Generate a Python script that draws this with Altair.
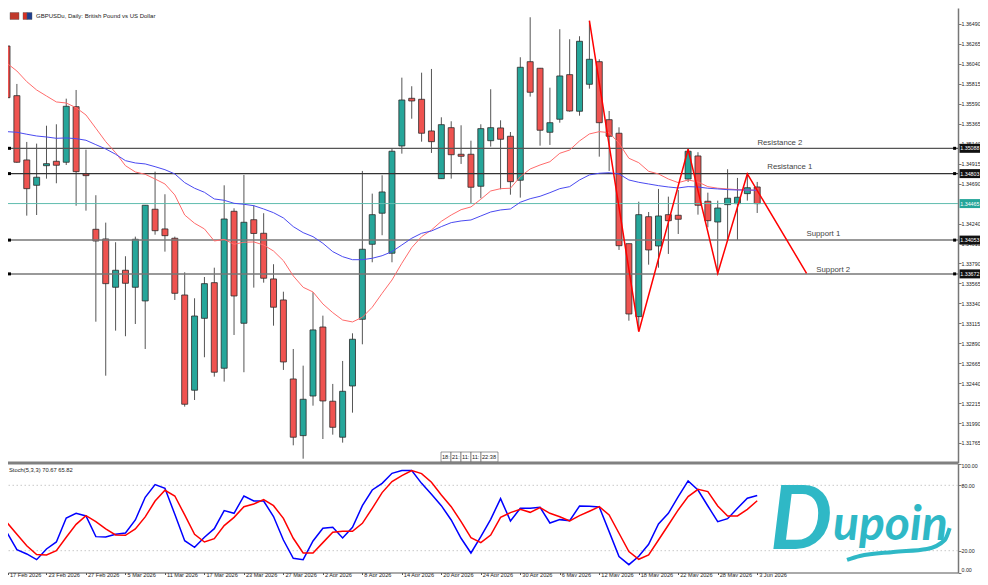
import altair as alt
import pandas as pd

# candles, one entry per daily bar, 17 Feb 2026 to 3 Jun 2026
opens = [1.36242,1.35682,1.34957,1.34671,1.34892,1.34942,1.34931,1.35558,1.34802,1.34175,1.34066,1.33521,1.33713,1.33521,1.33367,1.34401,1.34179,1.34074,1.33434,1.32360,1.33171,1.33573,1.32608,1.34378,1.33115,1.34283,1.34130,1.33615,1.33378,1.32487,1.31848,1.32295,1.33073,1.32236,1.31830,1.32408,1.33160,1.34006,1.34356,1.33905,1.35115,1.35652,1.35641,1.35284,1.34746,1.35321,1.35021,1.35021,1.34660,1.35174,1.35318,1.35224,1.34728,1.36065,1.35991,1.35269,1.35416,1.35919,1.35506,1.35810,1.36065,1.35411,1.35258,1.34013,1.33190,1.34317,1.33987,1.34340,1.34333,1.34742,1.35002,1.34491,1.34257,1.34453,1.34464,1.34577,1.34652]
highs = [1.36242,1.35814,1.35160,1.35141,1.35343,1.35359,1.35648,1.35746,1.35073,1.34559,1.34250,1.34029,1.33871,1.34092,1.34446,1.34825,1.34570,1.34092,1.33690,1.33397,1.33637,1.33742,1.34671,1.34412,1.34788,1.34446,1.34356,1.33781,1.33471,1.32825,1.32637,1.33465,1.33201,1.32431,1.32690,1.33002,1.34833,1.34577,1.34784,1.35081,1.35885,1.35788,1.35941,1.35983,1.35438,1.35393,1.35348,1.35174,1.35359,1.35754,1.35404,1.35272,1.36115,1.36566,1.35994,1.35772,1.36431,1.36318,1.36352,1.36524,1.36092,1.35509,1.35325,1.34013,1.34486,1.34370,1.34630,1.34543,1.34618,1.35077,1.35044,1.34588,1.34498,1.34852,1.34754,1.34799,1.34709]
lows = [1.35659,1.34925,1.34329,1.34336,1.34746,1.34694,1.34900,1.34441,1.34385,1.33133,1.32524,1.33032,1.32969,1.33107,1.32825,1.34114,1.33923,1.33378,1.32175,1.32250,1.32732,1.32513,1.32457,1.32983,1.32563,1.33517,1.33573,1.33088,1.32589,1.31739,1.31588,1.32186,1.31810,1.31859,1.31769,1.32107,1.32878,1.33803,1.34108,1.33803,1.35028,1.35422,1.35163,1.35036,1.34742,1.34746,1.34912,1.34468,1.34525,1.35107,1.34626,1.34565,1.34532,1.35671,1.35118,1.35126,1.35377,1.35501,1.35456,1.35761,1.34994,1.34833,1.33942,1.33144,1.33040,1.33776,1.33742,1.33897,1.34122,1.34709,1.34340,1.34198,1.33679,1.34055,1.34055,1.34498,1.34359]
closes = [1.35659,1.34931,1.34633,1.34762,1.34915,1.34897,1.35562,1.34825,1.34780,1.34043,1.33562,1.33713,1.33566,1.34062,1.34446,1.34159,1.34103,1.33453,1.32202,1.33197,1.33562,1.32563,1.34291,1.33423,1.34254,1.34128,1.33623,1.33296,1.32679,1.31830,1.32258,1.33040,1.32239,1.31942,1.32348,1.32935,1.33950,1.34340,1.34596,1.35055,1.35633,1.35622,1.35258,1.35163,1.35355,1.35016,1.34998,1.34649,1.35310,1.35321,1.35190,1.34712,1.36002,1.35720,1.35292,1.35377,1.35904,1.35509,1.36295,1.36092,1.35377,1.35224,1.33990,1.33220,1.34340,1.33942,1.34325,1.34272,1.34288,1.35055,1.34446,1.34272,1.34415,1.34525,1.34536,1.34644,1.34464]

ma_fast = [1.36047,1.35960,1.35840,1.35746,1.35678,1.35611,1.35599,1.35546,1.35464,1.35314,1.35163,1.35039,1.34892,1.34821,1.34795,1.34742,1.34686,1.34562,1.34336,1.34243,1.34179,1.34043,1.34062,1.34006,1.34029,1.34032,1.33998,1.33930,1.33821,1.33649,1.33521,1.33468,1.33333,1.33235,1.33152,1.33130,1.33183,1.33296,1.33453,1.33603,1.33792,1.33968,1.34092,1.34167,1.34265,1.34336,1.34396,1.34427,1.34514,1.34607,1.34633,1.34638,1.34768,1.34855,1.34900,1.34937,1.35032,1.35069,1.35171,1.35250,1.35276,1.35265,1.35145,1.34976,1.34926,1.34829,1.34799,1.34742,1.34701,1.34731,1.34709,1.34656,1.34638,1.34630,1.34622,1.34618,1.34615]
ma_slow = [1.35276,1.35269,1.35247,1.35227,1.35216,1.35201,1.35205,1.35197,1.35179,1.35129,1.35081,1.35021,1.34949,1.34923,1.34912,1.34881,1.34847,1.34799,1.34701,1.34638,1.34592,1.34517,1.34502,1.34468,1.34457,1.34441,1.34404,1.34362,1.34303,1.34205,1.34137,1.34092,1.34017,1.33923,1.33866,1.33832,1.33832,1.33848,1.33877,1.33923,1.33998,1.34074,1.34130,1.34156,1.34205,1.34250,1.34269,1.34280,1.34325,1.34370,1.34393,1.34404,1.34480,1.34520,1.34547,1.34588,1.34633,1.34656,1.34731,1.34788,1.34807,1.34813,1.34799,1.34731,1.34705,1.34686,1.34667,1.34652,1.34641,1.34656,1.34652,1.34638,1.34630,1.34622,1.34618,1.34618,1.34615]

stoch_k = [36.6,21,17,11.8,21.6,28,50,54.3,51.9,32.9,32.6,35,36.3,48.2,69,80.6,77.2,53.4,29.2,23.1,32.3,40.2,56.8,54.3,70.2,65.6,65.6,51.3,29.8,13,11.8,28.9,40.6,41.5,31.7,41.5,61.3,75.7,81.8,91,93.5,93.5,81.8,71.7,61.3,48.2,31.4,17.9,32.9,48.8,67.8,47.3,58.9,58.9,59.8,45.4,48.5,47.6,61,60.7,60.1,37.5,14.6,7.2,14.9,25.9,44.5,54.3,69.6,84,75.7,61,46.7,49.4,58.9,68.1,70.67]
stoch_d = [45.8,35,24.6,16.4,16.1,20,32.3,44.2,52.2,46.7,40,34.4,34.1,40,51,65.6,75.4,70.2,52.8,35,28,31,43,50.6,60.4,62.9,66.9,61.3,49.7,31.4,17.9,17.9,27.4,36.9,37.8,37.8,45.1,58.9,73.3,83.4,88.9,93.5,90.7,82.8,71.1,60.4,46.7,32,27.4,34.4,50.6,54.9,58,55.2,59.5,54.3,51.2,47.3,52.2,56.2,60.4,52.8,36,19.2,12.1,16.1,29.8,43.6,57.4,69.6,76.3,74.2,61,51.9,51.9,58,65.82]

zigzag_bars = [59, 64, 69, 72, 75, 81]
zigzag_prices = [1.36528, 1.33020, 1.35077, 1.33679, 1.34799, 1.33679]

level_names = ["Resistance 2", "Resistance 1", "Support 1", "Support 2"]
level_prices = [1.35088, 1.34803, 1.34053, 1.33672]
level_colors = ["#555555", "#333333", "#777777", "#777777"]
level_widths = [1.2, 1.2, 1.5, 1.5]
level_label_bars = [78.3, 79.3, 82.7, 83.7]
level_label_prices = [1.35148, 1.34872, 1.34122, 1.33716]
last_price = 1.34465

price_ticks = [1.36490,1.36265,1.36040,1.35815,1.35590,1.35365,1.35140,1.34915,1.34690,1.34240,1.34015,1.33790,1.33565,1.33340,1.33115,1.32890,1.32665,1.32440,1.32215,1.31990,1.31765]
date_labels = ["17 Feb 2026","23 Feb 2026","27 Feb 2026","5 Mar 2026","11 Mar 2026","17 Mar 2026","23 Mar 2026","27 Mar 2026","2 Apr 2026","8 Apr 2026","14 Apr 2026","20 Apr 2026","24 Apr 2026","30 Apr 2026","6 May 2026","12 May 2026","18 May 2026","22 May 2026","28 May 2026","3 Jun 2026"]
date_ticks = [0.1] + [4 * n for n in range(1, len(date_labels))]

timer_labels = ["18:", "21:", "11:", "11:", "22:38"]
swash_bars = [85.1, 86.4, 89.8, 93.2, 95, 95.5]
swash_vals = [11.5, 15.1, 18.8, 21.6, 29.8, 40.8]

FONT = "Liberation Sans"
UP = "#26a69a"
DOWN = "#ef5350"
LOGO = "#2fb8c6"
PLOT_W = 950
bars = list(range(len(opens)))
# right axis sits a little further in than the original so the price labels fit the page
x_scale = alt.Scale(domain=[0.1, 0.1 + PLOT_W / 9.871], nice=False, zero=False, padding=0)
y_scale = alt.Scale(domain=[1.315394, 1.366704], range=[455, 0], nice=False, zero=False, padding=0)
stoch_y = alt.Scale(domain=[0, 100], range=[564.5, 455.5], nice=False, padding=0)

candles = pd.DataFrame({"bar": bars, "open": opens, "high": highs, "low": lows, "close": closes})
candles["color"] = [UP if c >= o else DOWN for o, c in zip(opens, closes)]
levels = pd.DataFrame({"name": level_names, "price": level_prices, "color": level_colors, "w": level_widths,
                       "lx": level_label_bars, "ly": level_label_prices})
lines = pd.DataFrame({"bar": bars, "fast": ma_fast, "slow": ma_slow, "k": stoch_k, "d": stoch_d})
zigzag = pd.DataFrame({"bar": zigzag_bars, "price": zigzag_prices})
swash = pd.DataFrame({"bar": swash_bars, "v": swash_vals})
tags = pd.DataFrame({"price": level_prices + [last_price], "color": ["#111111"] * 4 + [UP]})
tags["label"] = [f"{p:.5f}" for p in tags["price"]]
ends = pd.DataFrame({"price": level_prices * 2, "bar": [0.25] * 4 + [96.0] * 4})
icons = pd.DataFrame({"x": [2, 15, 19], "x2": [11, 19, 24], "y": [4.5, 4.5, 4.5], "y2": [11.5, 11.5, 11.5],
                      "c": ["#c0392b", "#d93025", "#1f3f8f"]})
timers = pd.DataFrame({"label": timer_labels, "x": [433, 443, 453, 463, 473], "x2": [443, 453, 463, 473, 490]})

# one date axis along the bottom, two price style axes on the right
x_axis = alt.Axis(values=date_ticks, title=None, grid=False, domainColor="#555555", tickColor="#555555", tickSize=2,
                  labelFont=FONT, labelFontSize=5.6, labelColor="#222222", labelAlign="left", labelBaseline="alphabetic",
                  labelPadding=2.2, labelOffset=1.5, labelExpr=f"{date_labels}[round(datum.value / 4)]")
main_y_axis = alt.Axis(orient="right", values=price_ticks, format=".5f", title=None, grid=False, domainColor="#777777",
                       domainWidth=1.5, tickColor="#777777", tickSize=3, labelFont=FONT, labelFontSize=5.3,
                       labelColor="#222222", labelPadding=0)
low_y_axis = alt.Axis(orient="right", values=[0, 20, 80, 100], format=".2f", title=None, grid=False, domainColor="#777777",
                      domainWidth=1.5, tickColor="#777777", tickSize=3, labelFont=FONT, labelFontSize=5.3,
                      labelColor="#222222", labelPadding=0, labelFlush=True)


def bx(field="bar"):
    return alt.X(f"{field}:Q", scale=x_scale, axis=x_axis)


def my(field="price"):
    return alt.Y(f"{field}:Q", scale=y_scale, axis=main_y_axis)


def ly(field):
    return alt.Y(f"{field}:Q", scale=stoch_y, axis=low_y_axis)


wicks = alt.Chart(candles).mark_rule(color="#555555", strokeWidth=1, clip=True).encode(x=bx(), y=my("high"), y2="low:Q")
bodies = alt.Chart(candles).mark_bar(size=6, stroke="#2b2b2b", strokeWidth=0.8, clip=True).encode(
    x=bx(), y=my("open"), y2="close:Q", color=alt.Color("color:N", scale=None))
teal_line = alt.Chart(pd.DataFrame({"price": [last_price]})).mark_rule(color="#5fbcae", strokeWidth=1).encode(y=my())
level_lines = alt.Chart(levels).mark_rule().encode(y=my(), color=alt.Color("color:N", scale=None),
                                                    strokeWidth=alt.StrokeWidth("w:Q", scale=None))
fast_line = alt.Chart(lines).mark_line(color="#ff6b6b", strokeWidth=1, clip=True).encode(x=bx(), y=my("fast"))
slow_line = alt.Chart(lines).mark_line(color="#4a4af0", strokeWidth=1, clip=True).encode(x=bx(), y=my("slow"))
zig = alt.Chart(zigzag).mark_line(color="#ff0000", strokeWidth=1.5).encode(x=bx(), y=my())
level_text = alt.Chart(levels).mark_text(font=FONT, fontSize=7.8, color="#444444").encode(x=bx("lx"), y=my("ly"), text="name:N")
end_marks = alt.Chart(ends).mark_square(size=9, color="#000000", opacity=1).encode(x=bx(), y=my())
tag_boxes = alt.Chart(tags).mark_rect(height=9).encode(x=alt.value(951.5), x2=alt.value(972), y=my(),
                                                        color=alt.Color("color:N", scale=None))
tag_text = alt.Chart(tags).mark_text(font=FONT, fontSize=5.3, color="#ffffff", align="left").encode(
    x=alt.value(952.3), y=my(), text="label:N")
icon_boxes = alt.Chart(icons).mark_rect(stroke="#555555", strokeWidth=0.4).encode(
    x=alt.X("x:Q", scale=None), x2="x2:Q", y=alt.Y("y:Q", scale=None), y2="y2:Q", color=alt.Color("c:N", scale=None))
title_text = alt.Chart(pd.DataFrame({"t": ["GBPUSDu, Daily:  British Pound vs US Dollar"]})).mark_text(
    font=FONT, fontSize=6, color="#222222", align="left").encode(x=alt.value(28), y=alt.value(8), text="t:N")
timer_boxes = alt.Chart(timers).mark_rect(fill="#ffffff", stroke="#555555", strokeWidth=0.6).encode(
    x=alt.X("x:Q", scale=None), x2="x2:Q", y=alt.value(444), y2=alt.value(454))
timer_text = alt.Chart(timers).mark_text(font=FONT, fontSize=5.6, color="#222222", align="left", dx=1).encode(
    x=alt.X("x:Q", scale=None), y=alt.value(449), text="label:N")
separator = alt.Chart(pd.DataFrame({"a": [0]})).mark_rule(color="#808080", strokeWidth=3).encode(y=alt.value(455))

main = alt.layer(wicks, bodies, teal_line, level_lines, fast_line, slow_line, zig, level_text, end_marks,
                 tag_boxes, tag_text, title_text, timer_boxes, timer_text, icon_boxes, separator)

k_line = alt.Chart(lines).mark_line(color="#0000ff", strokeWidth=1.5).encode(x=bx(), y=ly("k"))
d_line = alt.Chart(lines).mark_line(color="#ff0000", strokeWidth=1.5).encode(x=bx(), y=ly("d"))
dots = alt.Chart(pd.DataFrame({"v": [20, 80]})).mark_rule(color="#c8c8c8", strokeDash=[1.5, 2.5], strokeWidth=1).encode(y=ly("v"))
stoch_text = alt.Chart(pd.DataFrame({"t": ["Stoch(5,3,3) 70.67 65.82"]})).mark_text(
    font=FONT, fontSize=5.8, color="#222222", align="left").encode(x=alt.value(1), y=alt.value(461.5), text="t:N")
logo_d = alt.Chart(pd.DataFrame({"t": ["D"]})).mark_text(font="Lato", fontSize=88, fontStyle="italic", fontWeight="bold",
                                                         color=LOGO, align="left", baseline="alphabetic").encode(
    x=alt.value(762), y=alt.value(541), text="t:N")
logo_rest = alt.Chart(pd.DataFrame({"t": ["upoin"]})).mark_text(font="Lato", fontSize=48, fontStyle="italic", fontWeight="bold",
                                                                color=LOGO, align="left", baseline="alphabetic").encode(
    x=alt.value(825), y=alt.value(532), text="t:N")
logo_swash = alt.Chart(swash).mark_line(color=LOGO, strokeWidth=4, interpolate="monotone").encode(x=bx(), y=ly("v"))

stoch = alt.layer(dots, k_line, d_line, stoch_text, logo_swash, logo_d, logo_rest)

chart = alt.layer(main, stoch).resolve_scale(y="independent").resolve_axis(y="independent").properties(
    width=PLOT_W, height=564.5, autosize=alt.AutoSizeParams(type="none"),
    padding={"left": 0, "top": 0, "right": 22, "bottom": 4.5}, background="#ffffff").configure_view(stroke=None)
chart.save("out.html", embed_options={"renderer": "svg", "actions": False})
